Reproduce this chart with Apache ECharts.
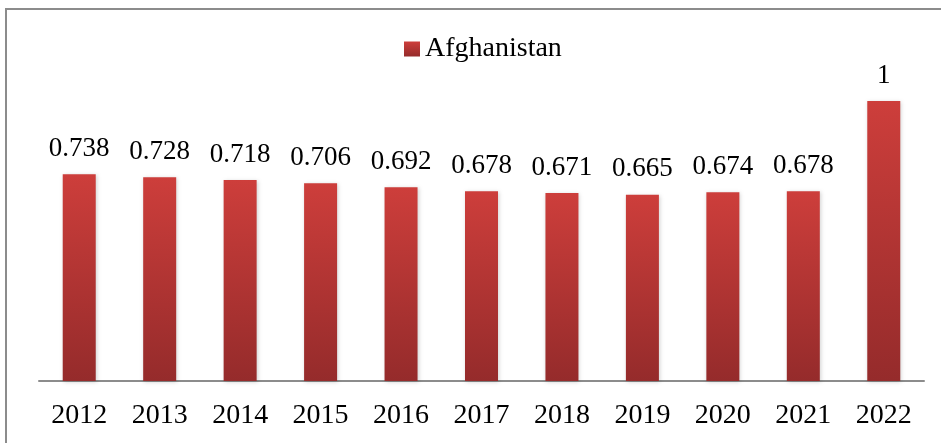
<!DOCTYPE html>
<html>
<head>
<meta charset="utf-8">
<script src="https://cdn.jsdelivr.net/npm/echarts@6/dist/echarts.min.js"></script>
<style>
html,body{margin:0;padding:0;background:#fff;}
#frame{position:absolute;left:5px;top:8px;width:1000px;height:500px;border:2px solid #8c8c8c;box-sizing:border-box;}
#chart{position:absolute;left:0;top:0;width:941px;height:443px;}
</style>
</head>
<body>
<div id="frame"></div>
<div id="chart"></div>
<script>
const categories = ['2012','2013','2014','2015','2016','2017','2018','2019','2020','2021','2022'];
const seriesName = 'Afghanistan';
const values = [0.738,0.728,0.718,0.706,0.692,0.678,0.671,0.665,0.674,0.678,1];

const FONT = "'Liberation Serif','Times New Roman',serif";
const chart = echarts.init(document.getElementById('chart'), null, {renderer:'canvas'});
chart.setOption({
  animation:false,
  backgroundColor:'transparent',
  legend:{
    show:true,
    left:404, top:35, padding:0,
    icon:'rect', itemWidth:16, itemHeight:15, itemGap:0,
    textStyle:{fontFamily:FONT, fontSize:28, color:'#000'},
    data:[seriesName]
  },
  grid:{left:39, right:17, top:45, bottom:62, containLabel:false},
  xAxis:{
    type:'category', data:categories,
    axisLine:{lineStyle:{color:'#8c8c8c', width:2}},
    axisTick:{show:false},
    axisLabel:{fontFamily:FONT, fontSize:28, color:'#000', margin:21}
  },
  yAxis:{type:'value', min:0, max:1.2, show:false, splitLine:{show:false}},
  series:[{
    name:seriesName, type:'bar', data:values, barWidth:33,
    itemStyle:{
      color:new echarts.graphic.LinearGradient(0,0,0,1,[
        {offset:0,color:'#cd3e3b'},
        {offset:1,color:'#952b2b'}
      ]),
      shadowColor:'rgba(0,0,0,0.18)', shadowBlur:4, shadowOffsetX:1, shadowOffsetY:1
    },
    label:{show:true, position:'top', distance:12, fontFamily:FONT, fontSize:27, color:'#000'}
  }]
});
</script>
</body>
</html>
